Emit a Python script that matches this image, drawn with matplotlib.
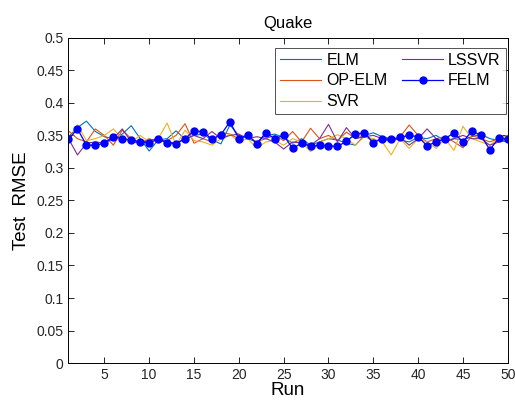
import numpy as np
import matplotlib
matplotlib.use("Agg")
import matplotlib.pyplot as plt

plt.rcParams["font.family"] = ["Liberation Sans", "DejaVu Sans"]

runs = np.arange(1, 51)

elm = [0.348, 0.362, 0.372, 0.356, 0.348, 0.345, 0.352, 0.365, 0.345, 0.326,
       0.343, 0.345, 0.357, 0.344, 0.350, 0.352, 0.343, 0.337, 0.366, 0.350,
       0.345, 0.340, 0.350, 0.352, 0.347, 0.338, 0.345, 0.335, 0.340, 0.345,
       0.343, 0.338, 0.335, 0.350, 0.354, 0.348, 0.345, 0.343, 0.340, 0.347,
       0.345, 0.350, 0.342, 0.345, 0.343, 0.348, 0.352, 0.345, 0.342, 0.340]
op_elm = [0.357, 0.345, 0.340, 0.360, 0.350, 0.335, 0.358, 0.345, 0.338, 0.345,
          0.340, 0.342, 0.350, 0.368, 0.338, 0.345, 0.340, 0.355, 0.352, 0.345,
          0.348, 0.340, 0.345, 0.350, 0.342, 0.356, 0.340, 0.361, 0.345, 0.350,
          0.342, 0.355, 0.345, 0.350, 0.340, 0.345, 0.342, 0.348, 0.366, 0.350,
          0.340, 0.345, 0.348, 0.340, 0.331, 0.350, 0.345, 0.340, 0.345, 0.350]
svr = [0.340, 0.366, 0.342, 0.345, 0.350, 0.360, 0.345, 0.340, 0.350, 0.340,
       0.345, 0.369, 0.335, 0.358, 0.342, 0.340, 0.335, 0.345, 0.352, 0.340,
       0.345, 0.330, 0.340, 0.342, 0.335, 0.345, 0.340, 0.325, 0.340, 0.345,
       0.351, 0.345, 0.335, 0.348, 0.345, 0.340, 0.320, 0.345, 0.330, 0.345,
       0.340, 0.330, 0.345, 0.327, 0.364, 0.345, 0.340, 0.335, 0.345, 0.350]
lssvr = [0.345, 0.320, 0.338, 0.340, 0.338, 0.345, 0.360, 0.340, 0.338, 0.342,
         0.345, 0.340, 0.338, 0.345, 0.350, 0.345, 0.356, 0.345, 0.350, 0.352,
         0.345, 0.348, 0.345, 0.340, 0.329, 0.340, 0.338, 0.335, 0.345, 0.367,
         0.340, 0.362, 0.345, 0.348, 0.350, 0.345, 0.340, 0.347, 0.335, 0.345,
         0.360, 0.345, 0.340, 0.345, 0.350, 0.345, 0.345, 0.335, 0.340, 0.345]
felm = [0.344, 0.360, 0.335, 0.335, 0.338, 0.348, 0.345, 0.343, 0.340, 0.339,
        0.344, 0.339, 0.337, 0.345, 0.357, 0.356, 0.344, 0.351, 0.371, 0.345,
        0.351, 0.337, 0.354, 0.345, 0.350, 0.330, 0.338, 0.333, 0.335, 0.334,
        0.333, 0.341, 0.352, 0.354, 0.339, 0.345, 0.344, 0.347, 0.350, 0.348,
        0.334, 0.340, 0.345, 0.354, 0.340, 0.357, 0.350, 0.328, 0.346, 0.344]

fig = plt.figure(figsize=(5.15, 4.07), dpi=100)
ax = fig.add_axes([0.133, 0.108, 0.853, 0.799])

ax.plot(runs, elm, color="#0072BD", lw=0.8, label="ELM")
ax.plot(runs, op_elm, color="#D95319", lw=0.8, label="OP-ELM")
ax.plot(runs, svr, color="#EDB120", lw=0.8, label="SVR")
ax.plot(runs, lssvr, color="#7E2F8E", lw=0.8, label="LSSVR")
ax.plot(runs, felm, color="#0000FF", lw=0.9, marker="o", ms=5, label="FELM")

ax.set_xlim(1, 50)
ax.set_ylim(0, 0.5)
ax.set_xticks(np.arange(5, 51, 5))
ax.set_yticks(np.arange(0, 0.51, 0.05))
ax.set_yticklabels(["0", "0.05", "0.1", "0.15", "0.2", "0.25", "0.3", "0.35", "0.4", "0.45", "0.5"])
ax.tick_params(direction="in", top=True, right=True, length=4, width=0.6,
               labelsize=10, labelcolor="#262626")
for s in ax.spines.values():
    s.set_linewidth(0.7)

ax.set_title("Quake", fontsize=12, pad=7)
ax.set_xlabel("Run", fontsize=13.5, labelpad=0)
ax.set_ylabel("Test  RMSE", fontsize=13.5, labelpad=5)

leg = ax.legend(ncol=2, loc="upper right", bbox_to_anchor=(0.9955, 0.97),
                fontsize=11.5, frameon=True, fancybox=False, edgecolor="#262626",
                handlelength=2.6, handletextpad=0.3, columnspacing=0.9,
                labelspacing=0.36, borderpad=0.32, borderaxespad=0.0)
leg.get_frame().set_linewidth(0.7)

fig.savefig("out.png", dpi=100)
